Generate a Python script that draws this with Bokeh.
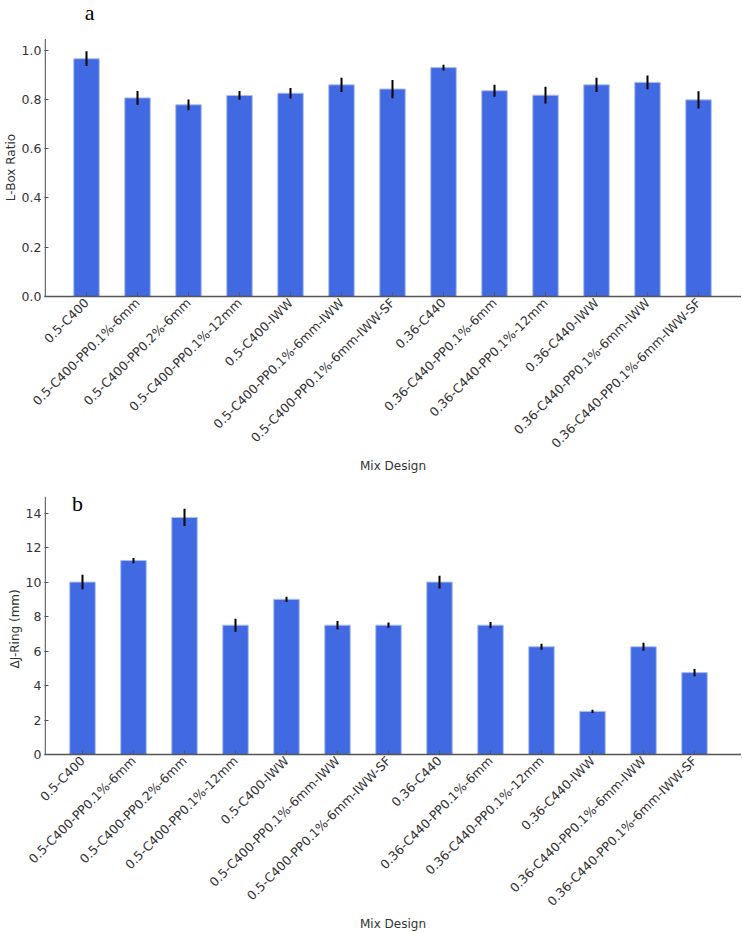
import math
from bokeh.plotting import figure
from bokeh.models import FixedTicker, Range1d, Label
from bokeh.layouts import column
from bokeh.embed import file_html
from bokeh.resources import INLINE

mixes = [
    "0.5-C400", "0.5-C400-PP0.1%-6mm", "0.5-C400-PP0.2%-6mm", "0.5-C400-PP0.1%-12mm",
    "0.5-C400-IWW", "0.5-C400-PP0.1%-6mm-IWW", "0.5-C400-PP0.1%-6mm-IWW-SF",
    "0.36-C440", "0.36-C440-PP0.1%-6mm", "0.36-C440-PP0.1%-12mm", "0.36-C440-IWW",
    "0.36-C440-PP0.1%-6mm-IWW", "0.36-C440-PP0.1%-6mm-IWW-SF",
]
lbox = [0.965, 0.806, 0.778, 0.816, 0.825, 0.859, 0.842, 0.929, 0.835, 0.817, 0.859, 0.869, 0.798]
lbox_err = [0.030, 0.028, 0.022, 0.018, 0.021, 0.029, 0.037, 0.012, 0.024, 0.034, 0.029, 0.028, 0.035]
jring = [10.0, 11.25, 13.75, 7.5, 9.0, 7.5, 7.5, 10.0, 7.5, 6.25, 2.5, 6.25, 4.75]
jring_err = [0.42, 0.15, 0.50, 0.38, 0.15, 0.25, 0.15, 0.37, 0.18, 0.18, 0.09, 0.23, 0.21]

lbox_ticks = [0.0, 0.2, 0.4, 0.6, 0.8, 1.0]
jring_ticks = [0, 2, 4, 6, 8, 10, 12, 14]

FONT = "DejaVu Sans"
BAR = "#4169E1"
AXIS = "#555555"
TOTAL_W = 741
NBSP = "\u00a0"


def panel(vals, errs, ylabel, label_pad, spine_top, px_per_unit, yticks, tag, tag_x, tag_y,
          first_px, left_border, frame_h, fmt):
    step = 51.0
    frame_w = TOTAL_W - left_border
    x0 = -(first_px - left_border) / step
    x1 = x0 + frame_w / step
    y1 = frame_h / px_per_unit
    p = figure(frame_width=frame_w, frame_height=frame_h,
               x_range=Range1d(x0, x1), y_range=Range1d(0, y1),
               output_backend="svg", toolbar_location=None,
               min_border_left=left_border, min_border_right=0,
               min_border_top=0, min_border_bottom=0)
    p.outline_line_color = None
    p.xgrid.visible = False
    p.ygrid.visible = False
    idx = list(range(len(vals)))
    p.vbar(x=idx, top=vals, width=0.5, fill_color=BAR, line_color="#a9bcf3", line_width=1)
    lo = [v - e for v, e in zip(vals, errs)]
    hi = [v + e for v, e in zip(vals, errs)]
    p.segment(x0=idx, y0=lo, x1=idx, y1=hi, line_color="black", line_width=2)
    # left spine, only up to the top of the value range
    sx = x0 + 0.7 / step
    p.segment(x0=[sx], y0=[0], x1=[sx], y1=[spine_top], line_color=AXIS, line_width=1.3)

    xa = p.xaxis[0]
    xa.ticker = FixedTicker(ticks=idx)
    xa.major_label_overrides = {i: m for i, m in enumerate(mixes)}
    xa.major_label_orientation = math.pi / 4
    xa.axis_label = "Mix Design"
    ya = p.yaxis[0]
    ya.ticker = FixedTicker(ticks=yticks)
    ya.major_label_overrides = {t: fmt(t) for t in yticks}
    # padding keeps the title centred on the value range, not on the whole frame
    ya.axis_label = ylabel + NBSP * label_pad
    ya.axis_line_color = None
    for ax in (xa, ya):
        ax.major_tick_line_color = AXIS
        ax.major_tick_in = 4
        ax.major_tick_out = 0
        ax.minor_tick_line_color = None
        ax.major_label_text_font = FONT
        ax.major_label_text_font_size = "12.5px"
        ax.major_label_text_color = "#333333"
        ax.axis_label_text_font = FONT
        ax.axis_label_text_font_size = "12px"
        ax.axis_label_text_font_style = "normal"
        ax.axis_label_text_color = "#333333"
    xa.axis_line_color = AXIS
    xa.axis_line_width = 1.3
    xa.major_label_standoff = 4
    xa.axis_label_standoff = 0
    ya.major_label_standoff = 3
    ya.axis_label_standoff = 1
    p.add_layout(Label(x=tag_x, y=tag_y, text=tag, text_font="Liberation Serif",
                       text_font_size="22px", text_color="black",
                       text_align="center", text_baseline="alphabetic"))
    return p


pa = panel(lbox, lbox_err, "L-Box Ratio", 10, 1.045, 246.4, lbox_ticks, "a", 0.06, 1.151,
           86, 44, 296, lambda t: f"{t:.1f}")
pb = panel(jring, jring_err, "ΔJ-Ring (mm)", 7, 14.95, 17.24, jring_ticks, "b", -0.10, 14.54,
           82, 44, 278, lambda t: f"{t:d}")

layout = column(pa, pb, spacing=0)
open("out.html", "w").write(file_html(layout, INLINE))
